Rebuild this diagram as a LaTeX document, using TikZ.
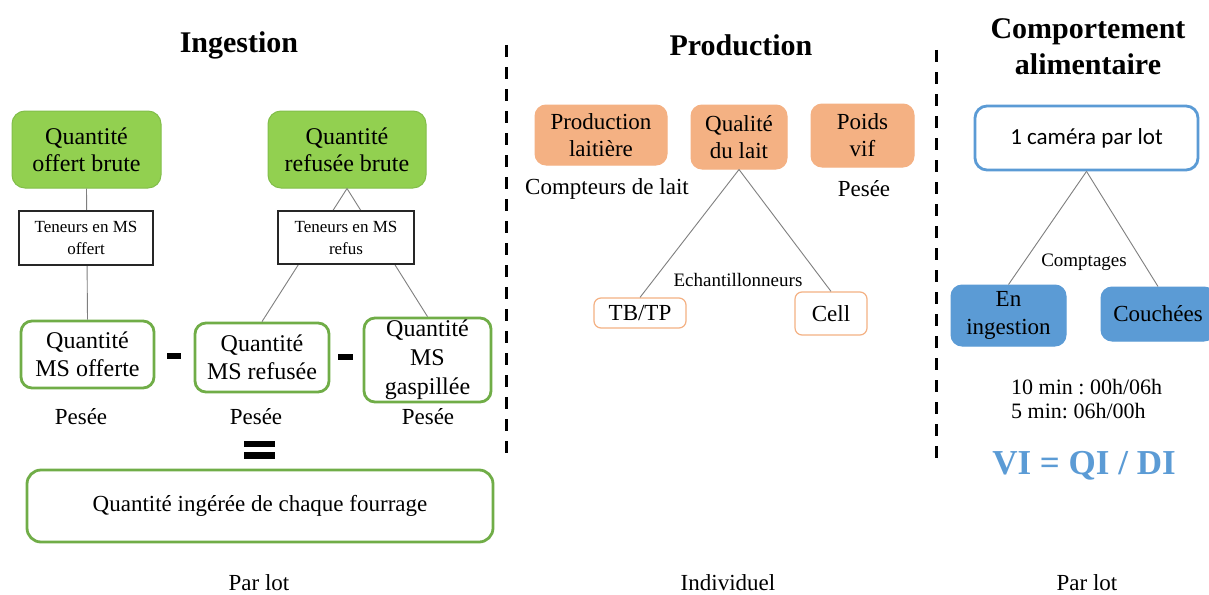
\documentclass[tikz,border=0pt]{standalone}
\usepackage{fontspec}
\setmainfont{Liberation Serif}
\newfontfamily\tnr{Liberation Serif}
\frenchspacing
\definecolor{gfill}{HTML}{92D050}
\definecolor{gdraw}{HTML}{82BE4A}
\definecolor{gline}{HTML}{70AD47}
\definecolor{ofill}{HTML}{F4B183}
\definecolor{bfill}{HTML}{5B9BD5}
\definecolor{conn}{HTML}{7F7F7F}
\tikzset{
  txt/.style={inner sep=0pt, align=center, font=\tnr\fontsize{23}{27}\selectfont},
  gfbox/.style={txt, rounded corners=13pt, fill=gfill, draw=gdraw, line width=1pt, font=\tnr\fontsize{24}{27}\selectfont},
  gobox/.style={txt, rounded corners=11pt, fill=white, draw=gline, line width=2.8pt, font=\tnr\fontsize{24}{28}\selectfont},
  tbox/.style={txt, fill=white, draw=black!85, line width=1.3pt, font=\tnr\fontsize{17}{22}\selectfont},
  ofbox/.style={txt, rounded corners=11pt, fill=ofill, draw=ofill, line width=1pt, font=\tnr\fontsize{23}{27}\selectfont},
  oobox/.style={txt, rounded corners=7pt, fill=white, draw=ofill, line width=1.2pt},
  bobox/.style={txt, rounded corners=12pt, fill=white, draw=bfill, line width=2.8pt},
  bfbox/.style={txt, rounded corners=11pt, fill=bfill, draw=bfill, line width=1pt, font=\tnr\fontsize{23}{28}\selectfont},
  ttl/.style={inner sep=0pt, align=center, font=\tnr\fontsize{30}{36}\selectfont\bfseries},
  small/.style={inner sep=0pt, font=\tnr\fontsize{19}{22}\selectfont},
  connector/.style={draw=conn, line width=0.9pt},
  sep/.style={line width=3pt, dash pattern=on 12pt off 10pt},
  bar/.style={fill=black, inner sep=0pt, minimum height=5.5pt},
}
\begin{document}
\begin{tikzpicture}[x=1pt, y=-1pt]
\clip (0,0) rectangle (1209,594);
\fill[white] (0,0) rectangle (1209,594);

% titles
\node[ttl] (t1) at (239,45) {Ingestion};
\node[ttl] (t2) at (741,45) {Production};
\node[ttl] (t3) at (1088,47) {Comportement\\alimentaire};

% separators
\coordinate (s1a) at (506,45); \coordinate (s1b) at (506,457);
\coordinate (s2a) at (936,50); \coordinate (s2b) at (936,462);
\draw[sep] (s1a) -- (s1b);
\draw[sep] (s2a) -- (s2b);

% Ingestion
\node[gfbox, minimum width=149pt, minimum height=77pt] (qob) at (86.5,149.5) {Quantité\\offert brute};
\node[gfbox, minimum width=158pt, minimum height=77pt] (qrb) at (347,149.5) {Quantité\\refusée brute};
\node[gobox, minimum width=133pt, minimum height=67pt] (mso) at (87.5,354.5) {Quantité\\MS offerte};
\node[gobox, minimum width=134pt, minimum height=69pt] (msr) at (262,357.5) {Quantité\\MS refusée};
\node[gobox, minimum width=127pt, minimum height=84pt, font=\tnr\fontsize{24}{29}\selectfont] (msg) at (427.5,360) {Quantité\\MS\\gaspillée};

\draw[connector] (qob.south) -- (mso.north);
\draw[connector] (qrb.south) -- (msr.north);
\draw[connector] (qrb.south) -- (msg.north);

\node[tbox, minimum width=134pt, minimum height=54pt] (teo) at (86,238) {Teneurs en MS\\offert};
\node[tbox, minimum width=136pt, minimum height=53pt] (ter) at (346,237.5) {Teneurs en MS\\refus};

\node[bar, minimum width=14pt] (m1) at (174,356) {};
\node[bar, minimum width=15pt] (m2) at (345,357) {};

\node[txt] (p1) at (81,417) {Pesée};
\node[txt] (p2) at (256,417) {Pesée};
\node[txt] (p3) at (428,417) {Pesée};

\node[bar, minimum width=31pt, minimum height=6.5pt] (e1) at (259.5,444) {};
\node[bar, minimum width=31pt, minimum height=6.5pt] (e2) at (259.5,455.5) {};

\node[gobox, minimum width=466pt, minimum height=72pt, rounded corners=14pt, font=\tnr\fontsize{23}{27}\selectfont] (qi) at (260,506) {Quantité ingérée de chaque fourrage};

% Production
\node[ofbox, minimum width=132pt, minimum height=60pt] (pl) at (601,135) {Production\\laitière};
\node[ofbox, minimum width=96pt, minimum height=64pt] (qdl) at (739,137) {Qualité\\du lait};
\node[ofbox, minimum width=103pt, minimum height=63pt] (pv) at (862.5,135.5) {Poids\\vif};
\node[txt] (cdl) at (607,189) {Compteurs de lait};
\node[txt] (pp) at (864,189) {Pesée};

\node[oobox, minimum width=92pt, minimum height=30pt] (tbtp) at (640,313) {TB/TP};
\node[oobox, minimum width=72pt, minimum height=43pt] (cell) at (831,313.5) {Cell};
\draw[connector] (qdl.south) -- (tbtp.north);
\draw[connector] (qdl.south) -- (cell.north);
\node[small] (ech) at (738,280) {Echantillonneurs};

% Comportement
\node[bobox, minimum width=223pt, minimum height=64pt, font=\fontspec{Carlito}\fontsize{23}{27}\selectfont] (cam) at (1086.5,138) {1 caméra par lot};
\node[bfbox, minimum width=115pt, minimum height=61pt] (eni) at (1008.5,315.5) {En\\ingestion};
\node[bfbox, minimum width=114pt, minimum height=54pt] (cou) at (1158,314) {Couchées};
\draw[connector] (cam.south) -- (eni.north);
\draw[connector] (cam.south) -- (cou.north);
\node[small] (cpt) at (1084,262) {Comptages};

\node[inner sep=0pt, align=left, anchor=west, font=\tnr\fontsize{22}{24}\selectfont] (tm) at (1011,399) {10 min : 00h/06h\\5 min: 06h/00h};
\node[inner sep=0pt, text=bfill, font=\tnr\fontsize{35}{40}\selectfont\bfseries] (vi) at (1084,466) {VI = QI / DI};

% bottom labels
\node[txt] (b1) at (259,583) {Par lot};
\node[txt] (b2) at (728,583) {Individuel};
\node[txt] (b3) at (1087,583) {Par lot};
\end{tikzpicture}
\end{document}
